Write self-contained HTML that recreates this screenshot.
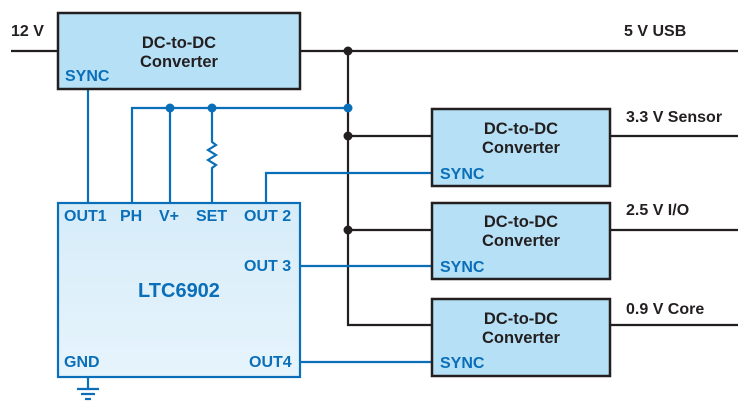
<!DOCTYPE html>
<html><head><meta charset="utf-8"><style>
html,body{margin:0;padding:0;background:#fff;}
svg{display:block;}
text{font-family:"Liberation Sans",sans-serif;font-weight:bold;}
</style></head><body>
<svg width="738" height="414" viewBox="0 0 738 414">
<defs>
<linearGradient id="g" x1="0" y1="0" x2="0" y2="1"><stop offset="0" stop-color="#d6ecf9"/><stop offset="1" stop-color="#e6f4fc"/></linearGradient>
</defs>
<g stroke="#231f20" stroke-width="2.2" fill="none">
<line x1="11" y1="51" x2="58" y2="51"/>
<line x1="300" y1="51" x2="738" y2="51"/>
<polyline points="348,51 348,325 432,325"/>
<line x1="348" y1="136" x2="432" y2="136"/>
<line x1="348" y1="230" x2="432" y2="230"/>
<line x1="610" y1="136" x2="738" y2="136"/>
<line x1="610" y1="230" x2="738" y2="230"/>
<line x1="610" y1="325" x2="738" y2="325"/>
</g>
<g stroke="#0a6fb8" stroke-width="2.2" fill="none">
<line x1="88" y1="89" x2="88" y2="203"/>
<polyline points="132,203 132,108 348,108"/>
<line x1="170" y1="108" x2="170" y2="203"/>
<polyline points="212,108 212,142 216,145 208,150 216,155 208,160 216,165 212,168 212,203"/>
<polyline points="266,203 266,173 432,173"/>
<line x1="300" y1="266" x2="432" y2="266"/>
<line x1="300" y1="362" x2="432" y2="362"/>
<line x1="88" y1="377" x2="88" y2="389"/>
<line x1="77" y1="389" x2="99" y2="389"/>
<line x1="81" y1="394" x2="95" y2="394"/>
<line x1="85" y1="399" x2="91" y2="399"/>
</g>
<g fill="#231f20"><circle cx="348" cy="51" r="4.5"/><circle cx="348" cy="136" r="4.5"/><circle cx="348" cy="230" r="4.5"/></g>
<g fill="#0a6fb8"><circle cx="348" cy="108" r="4.5"/><circle cx="170" cy="108" r="4.5"/><circle cx="212" cy="108" r="4.5"/></g>
<rect x="58" y="203" width="242" height="174" fill="url(#g)" stroke="#0a6fb8" stroke-width="2.2"/>
<g fill="#b6e0f6" stroke="#231f20" stroke-width="2.5">
<rect x="58" y="13" width="242" height="76"/>
<rect x="432" y="109" width="178" height="77"/>
<rect x="432" y="203" width="178" height="76"/>
<rect x="432" y="299" width="178" height="77"/>
</g>
<g font-size="16.5" fill="#231f20" text-anchor="middle">
<text x="179" y="48">DC-to-DC</text><text x="179" y="67">Converter</text>
<text x="521" y="134">DC-to-DC</text><text x="521" y="153">Converter</text>
<text x="521" y="227">DC-to-DC</text><text x="521" y="246">Converter</text>
<text x="521" y="324">DC-to-DC</text><text x="521" y="343">Converter</text>
</g>
<g font-size="16" fill="#231f20">
<text x="11" y="36">12 V</text>
<text x="624" y="36">5 V USB</text>
<text x="626" y="122">3.3 V Sensor</text>
<text x="626" y="215">2.5 V I/O</text>
<text x="626" y="314">0.9 V Core</text>
</g>
<g font-size="16" fill="#0a6fb8">
<text x="65" y="81">SYNC</text>
<text x="440" y="179">SYNC</text>
<text x="440" y="272">SYNC</text>
<text x="440" y="368">SYNC</text>
<text x="64" y="221">OUT1</text>
<text x="120" y="221">PH</text>
<text x="159" y="221">V+</text>
<text x="196" y="221">SET</text>
<text x="244" y="221">OUT 2</text>
<text x="244" y="271">OUT 3</text>
<text x="64" y="367">GND</text>
<text x="249" y="367">OUT4</text>
<text x="179" y="297" font-size="20" text-anchor="middle">LTC6902</text>
</g>
</svg>
</body></html>
